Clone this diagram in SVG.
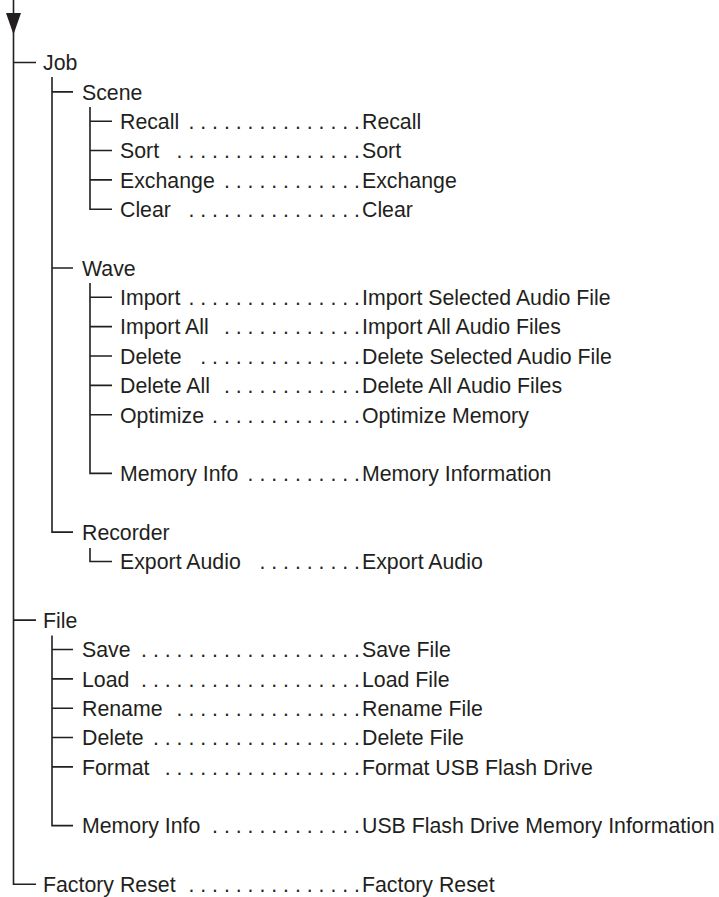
<svg xmlns="http://www.w3.org/2000/svg" width="719" height="897" viewBox="0 0 719 897">
<style>
text{font-family:"Liberation Sans",Arial,Helvetica,sans-serif;font-size:21.3px;fill:#231f20}
.d{text-anchor:end}
.ln{fill:none;stroke:#231f20;stroke-width:1.6}
</style>
<rect width="719" height="897" fill="#fff"/>
<g id="connectors">
<path class="ln" d="M13.5,0 V884.3 H36 M13.5,62.5 H36 M13.5,620.15 H36"/>
<polygon points="6,13 21,13 13.5,34.5" fill="#231f20"/>
<path class="ln" d="M52,77 V532.1 H73 M52,91.85 H73 M52,267.95 H73"/>
<path class="ln" d="M90,107 V209.25 H112 M90,121.2 H112 M90,150.55 H112 M90,179.9 H112"/>
<path class="ln" d="M90,283 V473.4 H112 M90,297.3 H112 M90,326.65 H112 M90,356 H112 M90,385.35 H112 M90,414.7 H112"/>
<path class="ln" d="M90,548 V561.45 H112"/>
<path class="ln" d="M52,635.5 V825.6 H73 M52,649.5 H73 M52,678.85 H73 M52,708.2 H73 M52,737.55 H73 M52,766.9 H73"/>
</g>
<g id="job"><text x="43" y="70.3">Job</text></g>
<g id="scene"><text x="82" y="99.65">Scene</text></g>
<g id="scene-recall"><text x="120" y="129">Recall</text><text class="d" x="360" y="129">. . . . . . . . . . . . . . .</text><text x="362" y="129">Recall</text></g>
<g id="scene-sort"><text x="120" y="158.35">Sort</text><text class="d" x="360" y="158.35">. . . . . . . . . . . . . . . .</text><text x="362" y="158.35">Sort</text></g>
<g id="scene-exchange"><text x="120" y="187.7">Exchange</text><text class="d" x="360" y="187.7">. . . . . . . . . . . .</text><text x="362" y="187.7">Exchange</text></g>
<g id="scene-clear"><text x="120" y="217.05">Clear</text><text class="d" x="360" y="217.05">. . . . . . . . . . . . . . .</text><text x="362" y="217.05">Clear</text></g>
<g id="wave"><text x="82" y="275.75">Wave</text></g>
<g id="wave-import"><text x="120" y="305.1">Import</text><text class="d" x="360" y="305.1">. . . . . . . . . . . . . . .</text><text x="362" y="305.1">Import Selected Audio File</text></g>
<g id="wave-import-all"><text x="120" y="334.45">Import All</text><text class="d" x="360" y="334.45">. . . . . . . . . . . .</text><text x="362" y="334.45">Import All Audio Files</text></g>
<g id="wave-delete"><text x="120" y="363.8">Delete</text><text class="d" x="360" y="363.8">. . . . . . . . . . . . . .</text><text x="362" y="363.8">Delete Selected Audio File</text></g>
<g id="wave-delete-all"><text x="120" y="393.15">Delete All</text><text class="d" x="360" y="393.15">. . . . . . . . . . . .</text><text x="362" y="393.15">Delete All Audio Files</text></g>
<g id="wave-optimize"><text x="120" y="422.5">Optimize</text><text class="d" x="360" y="422.5">. . . . . . . . . . . . .</text><text x="362" y="422.5">Optimize Memory</text></g>
<g id="wave-memory-info"><text x="120" y="481.2">Memory Info</text><text class="d" x="360" y="481.2">. . . . . . . . . .</text><text x="362" y="481.2">Memory Information</text></g>
<g id="recorder"><text x="82" y="539.9">Recorder</text></g>
<g id="recorder-export"><text x="120" y="569.25">Export Audio</text><text class="d" x="360" y="569.25">. . . . . . . . .</text><text x="362" y="569.25">Export Audio</text></g>
<g id="file"><text x="43" y="627.95">File</text></g>
<g id="file-save"><text x="82" y="657.3">Save</text><text class="d" x="360" y="657.3">. . . . . . . . . . . . . . . . . . .</text><text x="362" y="657.3">Save File</text></g>
<g id="file-load"><text x="82" y="686.65">Load</text><text class="d" x="360" y="686.65">. . . . . . . . . . . . . . . . . . .</text><text x="362" y="686.65">Load File</text></g>
<g id="file-rename"><text x="82" y="716">Rename</text><text class="d" x="360" y="716">. . . . . . . . . . . . . . . .</text><text x="362" y="716">Rename File</text></g>
<g id="file-delete"><text x="82" y="745.35">Delete</text><text class="d" x="360" y="745.35">. . . . . . . . . . . . . . . . . .</text><text x="362" y="745.35">Delete File</text></g>
<g id="file-format"><text x="82" y="774.7">Format</text><text class="d" x="360" y="774.7">. . . . . . . . . . . . . . . . .</text><text x="362" y="774.7">Format USB Flash Drive</text></g>
<g id="file-memory-info"><text x="82" y="833.4">Memory Info</text><text class="d" x="360" y="833.4">. . . . . . . . . . . . .</text><text x="362" y="833.4">USB Flash Drive Memory Information</text></g>
<g id="factory-reset"><text x="43" y="892.1">Factory Reset</text><text class="d" x="360" y="892.1">. . . . . . . . . . . . . . .</text><text x="362" y="892.1">Factory Reset</text></g>
</svg>
